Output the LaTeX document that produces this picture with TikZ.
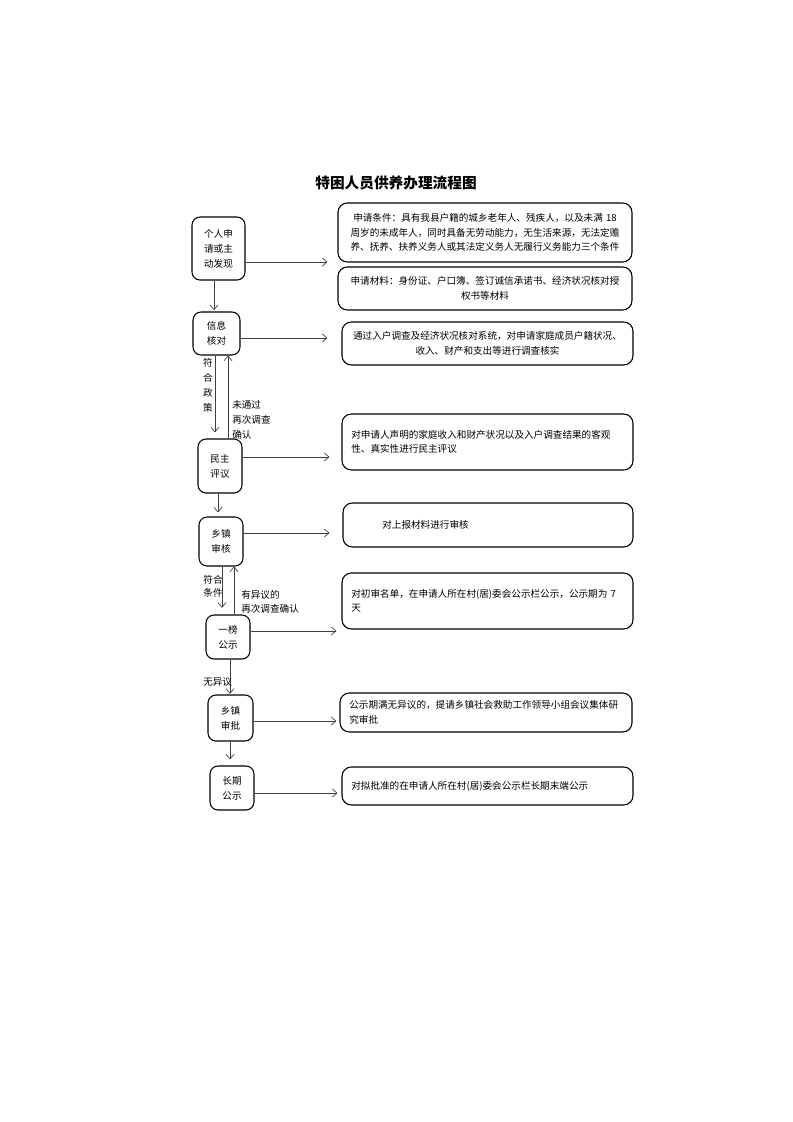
\documentclass[tikz,border=0pt]{standalone}
\usepackage{fontspec}
\setmainfont{Noto Sans CJK SC}
\usetikzlibrary{arrows.meta}

\tikzset{
  lbox/.style={draw, line width=0.8pt, rounded corners=6pt, align=center, inner sep=1pt,
    font=\fontsize{7.2}{11.25}\selectfont},
  rbox/.style={draw, line width=0.8pt, rounded corners=7pt, inner ysep=3pt,
    font=\fontsize{7.2}{10.8}\selectfont},
  arr/.style={draw=black!75, line width=0.5pt, -{Straight Barb[length=3.5pt,width=6pt]}},
  note/.style={inner sep=0pt, font=\fontsize{7.2}{11.25}\selectfont},
}

\begin{document}
\begin{tikzpicture}[x=0.75pt,y=-0.75pt]
    \useasboundingbox (0,0) rectangle (793,1122);
    \node[font=\fontsize{11}{13}\selectfont\bfseries] (title) at (396,183) {特困人员供养办理流程图};

    % steps on the left
    \foreach \n/\x/\y/\w/\h/\t in {
      l1/218.5/248.5/39.75/47.25/{个人申\\请或主\\动发现},
      l2/216.5/333.5/35.25/32.25/{信息\\核对},
      l3/220/466/33/40.5/{民主\\评议},
      l4/221/541.5/33/36.75/{乡镇\\审核},
      l5/228/637/33/33/{一榜\\公示},
      l6/230.5/718/33.75/34.5/{乡镇\\审批},
      l7/232/788/33/33/{长期\\公示}}
    \node[lbox, minimum width=\w pt, minimum height=\h pt] (\n) at (\x,\y) {\t};

    % notes on the right
    \node[rbox, inner xsep=4pt, text width=212.5pt, minimum height=44.25pt, align=center] (r1) at (485,232.5)
      {申请条件：具有我县户籍的城乡老年人、残疾人，以及未满 18\\周岁的未成年人，同时具备无劳动能力，无生活来源，无法定赡\\养、抚养、扶养义务人或其法定义务人无履行义务能力三个条件};
    \node[rbox, inner xsep=4pt, text width=212.5pt, minimum height=32.25pt, align=center] (r2) at (485,288.5)
      {申请材料：身份证、户口簿、签订诚信承诺书、经济状况核对授\\权书等材料};
    \node[rbox, inner xsep=4pt, text width=210.25pt, minimum height=32.25pt, align=center] (r3) at (487.5,343.5)
      {通过入户调查及经济状况核对系统，对申请家庭成员户籍状况、\\收入、财产和支出等进行调查核实};
    \node[rbox, inner xsep=7pt, text width=204.25pt, minimum height=42pt, align=left] (r4) at (487.5,442)
      {对申请人声明的家庭收入和财产状况以及入户调查结果的客观\\性、真实性进行民主评议};
    \node[rbox, inner xsep=7pt, text width=203.5pt, minimum height=33pt, align=left] (r5) at (488,525)
      {\hspace*{22.5pt}对上报材料进行审核};
    \node[rbox, inner xsep=7pt, text width=204.25pt, minimum height=42pt, align=left] (r6) at (487.5,601)
      {对初审名单，在申请人所在村(居)委会公示栏公示，公示期为 7\\天};
    \node[rbox, inner xsep=7pt, text width=205pt, minimum height=29.25pt, align=left] (r7) at (486,712.5)
      {公示期满无异议的，提请乡镇社会救助工作领导小组会议集体研\\究审批};
    \node[rbox, inner xsep=7pt, text width=204.25pt, minimum height=28.5pt, align=left] (r8) at (487.5,786)
      {对拟批准的在申请人所在村(居)委会公示栏长期末端公示};

    % arrows to the notes
    \foreach \a/\b/\y/\s in {l1/r1/262/7.5, l2/r3/338/10.5, l3/r4/457/9, l4/r5/533/9.75,
      l5/r6/631/3.75, l6/r7/721/2.25, l7/r8/793/3}
    \draw[arr, shorten >=\s pt] (\a.east |- 0,\y) -- (\b.west |- 0,\y);

    % down the steps
    \foreach \a/\b/\x/\s in {l1/l2/214/1, l2/l3/215/4.5, l3/l4/218/3, l4/l5/222/5,
      l5/l6/230/0.5, l6/l7/230/4.5}
    \draw[arr, shorten >=\s pt] (\a.south -| \x,0) -- (\b.north -| \x,0);
    \draw[arr] (l3.north -| 228,0) -- (l2.south -| 228,0);
    \draw[arr] (l5.north -| 234,0) -- (l4.south -| 234,0);

    % labels
    \node[note, align=center] (pass1) at (208,385) {符\\合\\政\\策};
    \node[note, anchor=west, align=left] (back1) at (232,420) {未通过\\再次调查\\确认};
    \node[note, align=center, font=\fontsize{7.2}{9.5}\selectfont] (pass2) at (213,586) {符合\\条件};
    \node[note, anchor=west, align=left, font=\fontsize{7.2}{10}\selectfont] (back2) at (241,602) {有异议的\\再次调查确认};
    \node[note, anchor=west] (pass3) at (203,682) {无异议};
  \end{tikzpicture}
\end{document}
